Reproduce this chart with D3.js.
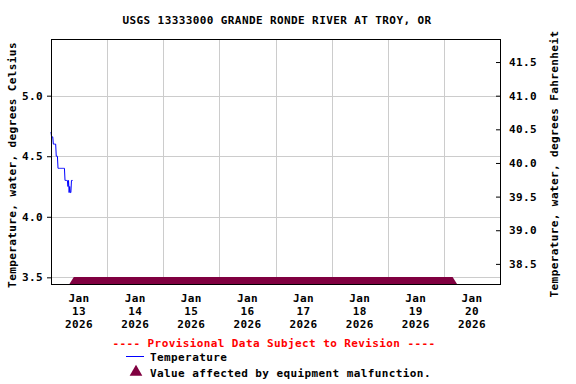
<!DOCTYPE html>
<html>
<head>
<meta charset="utf-8">
<script src="https://cdn.jsdelivr.net/npm/d3@7"></script>
<style>
  body { margin: 0; background: #fff; }
  svg { display: block; }
  text { font-family: 'DejaVu Sans Mono', 'Liberation Mono', monospace; font-weight: bold; font-size: 11px; letter-spacing: 0.4px; }
  .grid line { stroke: #cccccc; shape-rendering: crispEdges; }
  .frame { fill: none; stroke: #000; shape-rendering: crispEdges; }
</style>
</head>
<body>
<svg id="chart" width="576" height="384"></svg>
<script>
// 15-minute water temperature readings, deg C
const times = [
  '2026-01-13T00:00', '2026-01-13T00:15', '2026-01-13T00:30', '2026-01-13T00:45',
  '2026-01-13T01:00', '2026-01-13T01:15', '2026-01-13T01:30', '2026-01-13T01:45',
  '2026-01-13T02:00', '2026-01-13T02:15', '2026-01-13T02:30', '2026-01-13T02:45',
  '2026-01-13T03:00', '2026-01-13T03:15', '2026-01-13T03:30', '2026-01-13T03:45',
  '2026-01-13T04:00', '2026-01-13T04:15', '2026-01-13T04:30', '2026-01-13T04:45',
  '2026-01-13T05:00', '2026-01-13T05:15', '2026-01-13T05:30', '2026-01-13T05:45',
  '2026-01-13T06:00', '2026-01-13T06:15', '2026-01-13T06:30', '2026-01-13T06:45',
  '2026-01-13T07:00', '2026-01-13T07:15', '2026-01-13T07:30', '2026-01-13T07:45',
  '2026-01-13T08:00', '2026-01-13T08:15', '2026-01-13T08:30', '2026-01-13T08:45',
  '2026-01-13T09:00', '2026-01-13T09:15'
];
const tempC = [
  4.70, 4.66, 4.66, 4.66,
  4.60, 4.60, 4.60, 4.60,
  4.60, 4.50, 4.50, 4.50,
  4.40, 4.40, 4.40, 4.40,
  4.40, 4.40, 4.40, 4.40,
  4.40, 4.40, 4.40, 4.40,
  4.30, 4.30, 4.30, 4.30,
  4.30, 4.25, 4.30, 4.20,
  4.25, 4.20, 4.20, 4.30,
  4.30, 4.30
];

// period flagged "equipment malfunction"
const malfunctionStart = '2026-01-13T09:45';
const malfunctionEnd = '2026-01-20T03:45';

const xDomain = ['2026-01-13T00:00', '2026-01-21T00:00'];
const dayTicks = ['2026-01-13', '2026-01-14', '2026-01-15', '2026-01-16',
                  '2026-01-17', '2026-01-18', '2026-01-19', '2026-01-20'];
const gridDays = ['2026-01-14', '2026-01-15', '2026-01-16', '2026-01-17',
                  '2026-01-18', '2026-01-19', '2026-01-20'];
const yDomainC = [3.445, 5.468];
const ticksC = [3.5, 4.0, 4.5, 5.0];
const ticksF = [38.5, 39.0, 39.5, 40.0, 40.5, 41.0, 41.5];

const title = 'USGS 13333000 GRANDE RONDE RIVER AT TROY, OR';
const yLabelLeft = 'Temperature, water, degrees Celsius';
const yLabelRight = 'Temperature, water, degrees Fahrenheit';

const parseTime = d3.timeParse('%Y-%m-%dT%H:%M');
const parseDay = d3.timeParse('%Y-%m-%d');

const svg = d3.select('#chart'),
  margin = {top: 39, right: 76, bottom: 100, left: 51},
  width = +svg.attr('width') - margin.left - margin.right,
  height = +svg.attr('height') - margin.top - margin.bottom;

const x = d3.scaleTime()
  .domain(xDomain.map(parseTime))
  .range([0, width]);
const y = d3.scaleLinear().domain(yDomainC).range([height, 0]);
const yF = d3.scaleLinear()
  .domain(yDomainC.map(function(c) { return c * 1.8 + 32; }))
  .range([height, 0]);

const g = svg.append('g')
  .attr('transform', 'translate(' + margin.left + ',' + margin.top + ')');

// grid
g.append('g').attr('class', 'grid')
  .selectAll('line').data(ticksC).enter().append('line')
    .attr('x1', 0).attr('x2', width)
    .attr('y1', function(d) { return Math.round(y(d)) + 0.5; })
    .attr('y2', function(d) { return Math.round(y(d)) + 0.5; });

g.append('g').attr('class', 'grid')
  .selectAll('line').data(gridDays).enter().append('line')
    .attr('x1', function(d) { return Math.round(x(parseDay(d))) + 0.5; })
    .attr('x2', function(d) { return Math.round(x(parseDay(d))) + 0.5; })
    .attr('y1', 0).attr('y2', height);

// left axis
const axL = g.append('g')
  .call(d3.axisLeft(y).tickValues(ticksC).tickFormat(d3.format('.1f')).tickSize(4).tickPadding(4));
axL.select('.domain').remove();
axL.selectAll('text').attr('font-size', null).attr('font-family', null);

// right axis
const axR = g.append('g')
  .attr('transform', 'translate(' + width + ',0)')
  .call(d3.axisRight(yF).tickValues(ticksF).tickFormat(d3.format('.1f')).tickSize(4).tickPadding(5));
axR.select('.domain').remove();
axR.selectAll('line').attr('x2', -4);
axR.selectAll('text').attr('font-size', null).attr('font-family', null).attr('x', 9);

// day labels
const dayLab = g.append('g').selectAll('text').data(dayTicks).enter().append('text')
  .attr('text-anchor', 'middle')
  .attr('transform', function(d) {
    const t = d3.timeHour.offset(parseDay(d), 12);
    return 'translate(' + x(t) + ',' + (height + 18) + ')';
  });
dayLab.append('tspan').attr('x', 0).attr('y', 0).text(function(d) { return d3.timeFormat('%b')(parseDay(d)); });
dayLab.append('tspan').attr('x', 0).attr('y', 13).text(function(d) { return d3.timeFormat('%-d')(parseDay(d)); });
dayLab.append('tspan').attr('x', 0).attr('y', 26).text(function(d) { return d3.timeFormat('%Y')(parseDay(d)); });

// malfunction band (dense triangles)
const s = x(parseTime(malfunctionStart)), e = x(parseTime(malfunctionEnd));
const base = height + 1, apex = height - 7;
g.append('path')
  .attr('d', 'M' + (s - 5) + ',' + base + 'L' + s + ',' + apex + 'L' + e + ',' + apex + 'L' + (e + 5) + ',' + base + 'Z')
  .attr('fill', '#800040');

// temperature line
const line = d3.line()
  .x(function(d) { return x(d[0]); })
  .y(function(d) { return y(d[1]); });
g.append('path')
  .datum(times.map(function(t, i) { return [parseTime(t), tempC[i]]; }))
  .attr('fill', 'none')
  .attr('stroke', '#0000ff')
  .attr('stroke-width', 1)
  .attr('d', line);

// frame
g.append('rect').attr('class', 'frame')
  .attr('x', 0.5).attr('y', 0.5).attr('width', width).attr('height', height);

// titles
svg.append('text').attr('x', 277).attr('y', 24).attr('text-anchor', 'middle').text(title);
svg.append('text').attr('text-anchor', 'middle')
  .attr('transform', 'translate(16,165) rotate(-90)').text(yLabelLeft);
svg.append('text').attr('text-anchor', 'middle')
  .attr('transform', 'translate(558,164) rotate(-90)').text(yLabelRight);

// legend
svg.append('text').attr('x', 274).attr('y', 347).attr('text-anchor', 'middle')
  .attr('fill', '#ff0000').text('---- Provisional Data Subject to Revision ----');
svg.append('line').attr('x1', 126).attr('x2', 144).attr('y1', 356.5).attr('y2', 356.5)
  .attr('stroke', '#0000ff');
svg.append('text').attr('x', 150).attr('y', 361).text('Temperature');
svg.append('path').attr('d', d3.symbol(d3.symbolTriangle, 70)())
  .attr('transform', 'translate(136,372)').attr('fill', '#800040');
svg.append('text').attr('x', 150).attr('y', 377).text('Value affected by equipment malfunction.');
</script>
</body>
</html>
